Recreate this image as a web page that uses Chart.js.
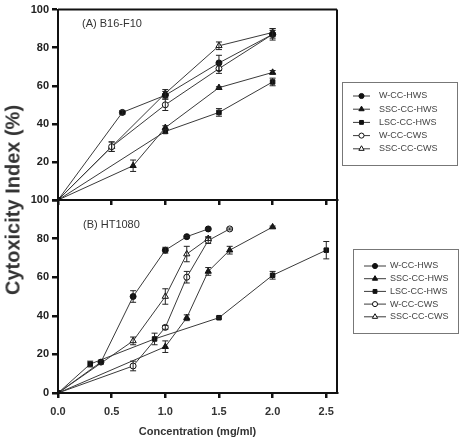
<!DOCTYPE html>
<html>
<head>
<meta charset="utf-8">
<script src="https://cdn.jsdelivr.net/npm/chart.js@4"></script>
<style>
  html, body { margin: 0; padding: 0; background: #fff; }
  #wrap { position: relative; width: 460px; height: 439px; overflow: hidden; }
  canvas { position: absolute; left: 0; }
  #chartA { top: 0; }
  #chartB { top: 190px; }
  #ytitle {
    position: absolute; left: 13px; top: 200px; white-space: nowrap;
    font: bold 20px "Liberation Sans", Arial, sans-serif; color: #333;
    transform: translate(-50%, -50%) rotate(-90deg);
  }
</style>
</head>
<body>
<div id="wrap">
  <canvas id="chartB" width="460" height="249"></canvas>
  <canvas id="chartA" width="460" height="210"></canvas>
  <div id="ytitle">Cytoxicity Index (%)</div>
</div>
<script>
const seriesNames = ['W-CC-HWS', 'SSC-CC-HWS', 'LSC-CC-HWS', 'W-CC-CWS', 'SSC-CC-CWS'];
const xTicks = [0, 0.5, 1.0, 1.5, 2.0, 2.5];
const yTicks = [0, 20, 40, 60, 80, 100];

// (A) B16-F10
const concA = [
  [0, 0.6, 1.0, 1.5, 2.0],
  [0, 0.7, 1.0, 1.5, 2.0],
  [0, 1.0, 1.5, 2.0],
  [0, 0.5, 1.0, 1.5, 2.0],
  [0, 0.5, 1.0, 1.5, 2.0]
];
const valuesA = [
  [0, 46, 55, 72, 87],
  [0, 18, 38, 59, 67],
  [0, 36, 46, 62],
  [0, 28, 50, 69, 87],
  [0, 28, 56, 81, 88]
];
const errorsA = [
  [0, 1, 2, 4, 3],
  [0, 3, 1, 0.5, 1],
  [0, 1, 2, 2],
  [0, 2.5, 3, 2.5, 2],
  [0, 2.5, 2, 2, 2]
];

// (B) HT1080
const concB = [
  [0, 0.4, 0.7, 1.0, 1.2, 1.4],
  [0, 1.0, 1.2, 1.4, 1.6, 2.0],
  [0, 0.3, 0.9, 1.5, 2.0, 2.5],
  [0, 0.7, 1.0, 1.2, 1.4, 1.6],
  [0, 0.7, 1.0, 1.2, 1.4]
];
const valuesB = [
  [0, 16, 50, 74, 81, 85],
  [0, 24, 39, 63, 74, 86],
  [0, 15, 28, 39, 61, 74],
  [0, 14, 34, 60, 79, 85],
  [0, 27, 50, 72, 80]
];
const errorsB = [
  [0, 1, 3, 1.5, 0.5, 0.5],
  [0, 3, 1.5, 2, 2, 0.5],
  [0, 1.5, 3, 0.5, 2, 4.5],
  [0, 2.5, 1, 3, 1.5, 0.5],
  [0, 2, 4, 4, 1]
];

// marker look per series
const markers = [
  { style: 'circle', fill: '#111', r: 3 },
  { style: 'triangle', fill: '#111', r: 3.6 },
  { style: 'rect', fill: '#111', r: 3.2 },
  { style: 'circle', fill: '#fff', r: 3 },
  { style: 'triangle', fill: '#fff', r: 3.6 }
];

const FONT = '"Liberation Sans", Arial, sans-serif';

function makeDatasets(conc, values, errors) {
  return seriesNames.map((name, i) => ({
    label: name,
    data: conc[i].map((c, j) => ({ x: c, y: values[i][j] })),
    errors: errors[i],
    borderColor: '#3a3a3a',
    borderWidth: 1,
    pointStyle: markers[i].style,
    pointRadius: markers[i].r,
    pointBackgroundColor: markers[i].fill,
    pointBorderColor: '#111',
    pointBorderWidth: 1,
    fill: false,
    tension: 0
  }));
}

// vertical error bars with caps
const errorBars = {
  id: 'errorBars',
  afterDatasetsDraw(chart) {
    const ctx = chart.ctx;
    const ys = chart.scales.y;
    ctx.save();
    ctx.strokeStyle = '#222';
    ctx.lineWidth = 1;
    chart.data.datasets.forEach((ds, i) => {
      chart.getDatasetMeta(i).data.forEach((pt, j) => {
        const e = ds.errors[j];
        if (!e) return;
        const v = ds.data[j].y;
        const y1 = ys.getPixelForValue(v - e);
        const y2 = ys.getPixelForValue(v + e);
        ctx.beginPath();
        ctx.moveTo(pt.x, y1); ctx.lineTo(pt.x, y2);
        ctx.moveTo(pt.x - 3, y1); ctx.lineTo(pt.x + 3, y1);
        ctx.moveTo(pt.x - 3, y2); ctx.lineTo(pt.x + 3, y2);
        ctx.stroke();
      });
    });
    ctx.restore();
  }
};

// right / top frame, panel label and the boxed legend
const panelDecor = {
  id: 'panelDecor',
  afterDraw(chart, args, opts) {
    const ctx = chart.ctx;
    const a = chart.chartArea;
    ctx.save();
    ctx.strokeStyle = '#111';
    ctx.lineWidth = 2;
    ctx.beginPath();
    if (opts.topBorder) {
      ctx.moveTo(a.left, a.top); ctx.lineTo(a.right, a.top);
    }
    ctx.moveTo(a.right, a.top); ctx.lineTo(a.right, a.bottom);
    ctx.stroke();

    ctx.fillStyle = '#333';
    ctx.font = '11px ' + FONT;
    ctx.textBaseline = 'middle';
    ctx.fillText(opts.label, opts.labelX, opts.labelY);

    const b = opts.box;
    ctx.strokeStyle = '#777';
    ctx.lineWidth = 1;
    ctx.strokeRect(b[0] + 0.5, b[1] + 0.5, b[2], b[3]);
    ctx.font = '9px ' + FONT;
    seriesNames.forEach((name, i) => {
      const y = opts.rowY + i * opts.rowGap;
      ctx.strokeStyle = '#3a3a3a';
      ctx.beginPath();
      ctx.moveTo(opts.lineX[0], y); ctx.lineTo(opts.lineX[1], y);
      ctx.stroke();
      ctx.fillStyle = markers[i].fill;
      ctx.strokeStyle = '#111';
      Chart.helpers.drawPoint(ctx, {
        pointStyle: markers[i].style, radius: markers[i].r * 0.85,
        borderWidth: 1, rotation: 0
      }, (opts.lineX[0] + opts.lineX[1]) / 2, y);
      ctx.fillStyle = '#444';
      ctx.fillText(name, opts.textX, y);
    });
    ctx.restore();
  }
};

function makeOptions(isTop, decor) {
  return {
    responsive: false,
    animation: false,
    devicePixelRatio: 1,
    layout: { padding: { left: 0, right: 123, top: isTop ? 6 : 10, bottom: 0 } },
    plugins: { legend: { display: false }, tooltip: { enabled: false }, panelDecor: decor },
    scales: {
      x: {
        type: 'linear', min: 0, max: 2.6,
        afterFit: s => { s.height = isTop ? 10 : 46; },
        afterBuildTicks: s => { s.ticks = xTicks.map(v => ({ value: v })); },
        border: { color: '#111', width: 2 },
        grid: { drawOnChartArea: false, color: '#111', lineWidth: 2.5, tickLength: 5 },
        ticks: {
          padding: 7, color: '#333',
          font: { family: FONT, size: 11, weight: 'bold' },
          callback: v => isTop ? '' : v.toFixed(1)
        },
        title: {
          display: !isTop, text: 'Concentration (mg/ml)', color: '#333',
          font: { family: FONT, size: 11, weight: 'bold' }, padding: 0
        }
      },
      y: {
        min: 0, max: 100,
        afterFit: s => { s.width = 58; },
        afterBuildTicks: s => { s.ticks = yTicks.map(v => ({ value: v })); },
        border: { color: '#111', width: 2 },
        grid: { drawOnChartArea: false, color: '#111', lineWidth: 2.5, tickLength: 6 },
        ticks: {
          padding: 3, color: '#222',
          font: { family: FONT, size: 11, weight: 'bold' },
          callback: v => (isTop && v === 0) ? '' : String(v)
        }
      }
    }
  };
}

new Chart(document.getElementById('chartA'), {
  type: 'line',
  data: { datasets: makeDatasets(concA, valuesA, errorsA) },
  options: makeOptions(true, {
    topBorder: true, label: '(A) B16-F10', labelX: 82, labelY: 24,
    box: [342, 82, 115, 83], rowY: 96, rowGap: 13.2,
    lineX: [353, 370], textX: 379
  }),
  plugins: [errorBars, panelDecor]
});

new Chart(document.getElementById('chartB'), {
  type: 'line',
  data: { datasets: makeDatasets(concB, valuesB, errorsB) },
  options: makeOptions(false, {
    topBorder: false, label: '(B) HT1080', labelX: 83, labelY: 35,
    box: [353, 59, 105, 84], rowY: 76, rowGap: 12.7,
    lineX: [364, 386], textX: 390
  }),
  plugins: [errorBars, panelDecor]
});
</script>
</body>
</html>
